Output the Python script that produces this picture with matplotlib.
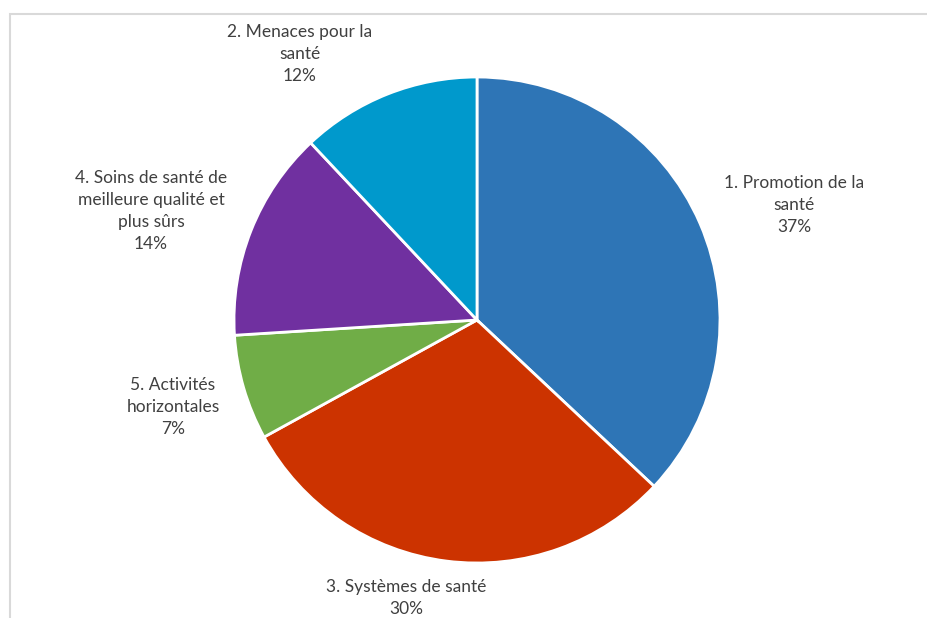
import matplotlib
matplotlib.use("Agg")
import matplotlib.pyplot as plt
from matplotlib.patches import Rectangle

# data, clockwise from 12 o'clock
labels = ["1. Promotion de la\nsanté", "3. Systèmes de santé", "5. Activités\nhorizontales",
          "4. Soins de santé de\nmeilleure qualité et\nplus sûrs", "2. Menaces pour la\nsanté"]
shares = [37, 30, 7, 14, 12]
colors = ["#2E75B6", "#CC3300", "#70AD47", "#7030A0", "#0099CC"]

# label centres in pixels (Excel outside-end placement)
label_pos = [(794, 205), (406, 598), (173, 407), (151, 211), (300, 54)]

W, H = 928, 618
fig = plt.figure(figsize=(W / 100, H / 100), dpi=100)
ax = fig.add_axes([0, 0, 1, 1])
ax.set_xlim(0, W)
ax.set_ylim(0, H)
ax.axis("off")

# chart area border (only top/left visible)
fig.patches.append(Rectangle((10 / W, -0.1), 1.2, (H - 14) / H + 0.1, transform=fig.transFigure,
                             fill=False, edgecolor="#D9D9D9", linewidth=1.5))

ax.pie(shares, colors=colors, startangle=90, counterclock=False,
       center=(477, H - 320), radius=243,
       wedgeprops=dict(edgecolor="white", linewidth=2))
ax.set_xlim(0, W)
ax.set_ylim(0, H)
ax.set_aspect("auto")

for lab, s, (x, y) in zip(labels, shares, label_pos):
    ax.text(x, H - y, f"{lab}\n{s}%", ha="center", va="center", fontsize=12.5,
            family="Lato", color="#404040", linespacing=1.45)

fig.savefig("out.png", dpi=100)
